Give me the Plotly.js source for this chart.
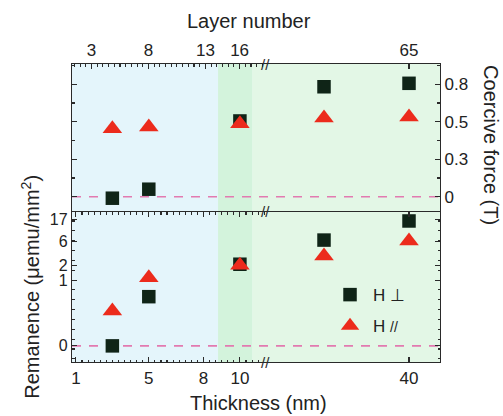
<!DOCTYPE html>
<html><head><meta charset="utf-8">
<script src="https://cdn.plot.ly/plotly-3.0.1.min.js"></script>
<style>html,body{margin:0;padding:0;background:#fff}#chart{width:503px;height:416px}</style>
</head><body><div id="chart"></div>
<script>
// ---- data ----
const thickness      = [3, 5, 10, 20, 40];              // nm
const coercivePerp   = [-0.01, 0.05, 0.505, 0.733, 0.756]; // T
const coercivePara   = [0.453, 0.465, 0.487, 0.525, 0.531];
const remanencePerp  = [0.046, 0.46, 2.1, 6.5, 15.9];   // μemu/mm² (first point sits on the "0" floor)
const remanencePara  = [0.235, 1.12, 2.0, 3.1, 6.2];
const seriesNames    = ['H ⊥', 'H <span style="font-size:14px">//</span>'];

const thicknessTicksLeft  = [1, 5, 8, 10];
const thicknessTicksRight = [40];
const layerTicksLeft  = [3, 8, 13, 16];
const layerTicksRight = [65];
const coerciveTickVals = [0, 0.25, 0.5, 0.75];
const coerciveTickText = ['0', '0.3', '0.5', '0.8'];
const remanenceZero = 0.046;
const remanenceTickVals = [remanenceZero, 1, 2, 6, 17];
const remanenceTickText = ['0', '1', '2', '6', '17'];

// shaded regions (thickness, nm)
const blueRegion = [0.785, 8.8];
const bandRegion = [8.8, 10.7];
const breakAt = 12;

// ---- layout geometry ----
const xBreak = 0.5245, yMid = 0.5067;
const xLeftRange = [0.785, 11.378], xRightRange = [6.118, 47.294];
const layerLeftRange = [1.29, 18.23], layerRightRange = [9.94, 76.85];
const yTopRange = [-0.0953, 0.8847];
const yBotRange = [-1.665, 1.404];

const FONT = 'Liberation Sans, Arial, sans-serif';
const INK = '#2a2a2a';
const SQ = '#0f2417', TRI = '#ec2b1c';

function pick(arr, left) { return arr.filter((_, i) => left ? thickness[i] < breakAt : thickness[i] >= breakAt); }

const traces = [];
function addSeries(yvals, name, sym, color, size, xa, ya, group, showleg) {
  [true, false].forEach(left => {
    traces.push({
      x: pick(thickness, left), y: pick(yvals, left),
      xaxis: left ? xa[0] : xa[1], yaxis: ya,
      type: 'scatter', mode: 'markers', name: name, legendgroup: group,
      showlegend: showleg && left, cliponaxis: false,
      marker: {symbol: sym, color: color, size: size, line: {width: 0}}
    });
  });
}
// top panel (coercive force)
addSeries(coercivePerp, seriesNames[0], 'square', SQ, 13.5, ['x3', 'x4'], 'y2', 'perp', false);
addSeries(coercivePara, seriesNames[1], 'triangle-up', TRI, 17, ['x3', 'x4'], 'y2', 'para', false);
// bottom panel (remanence)
addSeries(remanencePerp, seriesNames[0], 'square', SQ, 13.5, ['x', 'x2'], 'y', 'perp', true);
addSeries(remanencePara, seriesNames[1], 'triangle-up', TRI, 17, ['x', 'x2'], 'y', 'para', true);
// empty helper traces so the decorative axes are built
[['x5', 'y2'], ['x6', 'y2'], ['x', 'y3'], ['x2', 'y4']].forEach(p =>
  traces.push({x: [], y: [], xaxis: p[0], yaxis: p[1], type: 'scatter', mode: 'markers', showlegend: false, hoverinfo: 'skip'}));

const axBase = {
  showline: true, linecolor: INK, linewidth: 1.2, ticks: 'inside', ticklen: 5, tickwidth: 1.1,
  tickcolor: INK, showgrid: false, zeroline: false, fixedrange: true,
  tickfont: {family: FONT, size: 17, color: '#222'}
};
const minorX = {dtick: 1 / 3, tick0: 0, ticklen: 2.5, tickcolor: INK, ticks: 'inside'};

const layout = {
  width: 503, height: 416, autosize: false,
  margin: {l: 72, r: 63, t: 64, b: 54, pad: 0},
  paper_bgcolor: '#fff', plot_bgcolor: 'rgba(0,0,0,0)',
  font: {family: FONT, color: '#222'},
  showlegend: true,
  legend: {x: 0.693, xanchor: 'left', y: 0.285, yanchor: 'top', bgcolor: 'rgba(0,0,0,0)', itemwidth: 36,
           font: {family: FONT, size: 17, color: '#222'}, tracegroupgap: 6, traceorder: 'grouped'},
  xaxis:  Object.assign({}, axBase, {domain: [0, xBreak], anchor: 'y', range: xLeftRange,
           tickmode: 'array', tickvals: thicknessTicksLeft, ticktext: thicknessTicksLeft.map(String), minor: minorX}),
  xaxis2: Object.assign({}, axBase, {domain: [xBreak, 1], anchor: 'y', range: xRightRange,
           tickmode: 'array', tickvals: thicknessTicksRight, ticktext: thicknessTicksRight.map(String)}),
  xaxis3: Object.assign({}, axBase, {domain: [0, xBreak], anchor: 'y2', range: xLeftRange, ticks: 'outside',
           tickmode: 'array', tickvals: thicknessTicksLeft, showticklabels: false,
           minor: Object.assign({}, minorX, {ticks: 'outside'})}),
  xaxis4: Object.assign({}, axBase, {domain: [xBreak, 1], anchor: 'y2', range: xRightRange, ticks: 'outside',
           tickmode: 'array', tickvals: thicknessTicksRight, showticklabels: false}),
  xaxis5: Object.assign({}, axBase, {overlaying: 'x3', anchor: 'y2', side: 'top', range: layerLeftRange,
           tickmode: 'array', tickvals: layerTicksLeft, ticktext: layerTicksLeft.map(String),
           minor: {dtick: 0.5, tick0: 0, ticklen: 2.5, tickcolor: INK, ticks: 'inside'}}),
  xaxis6: Object.assign({}, axBase, {overlaying: 'x4', anchor: 'y2', side: 'top', range: layerRightRange,
           tickmode: 'array', tickvals: layerTicksRight, ticktext: layerTicksRight.map(String)}),
  yaxis:  Object.assign({}, axBase, {domain: [0, yMid], anchor: 'x', side: 'left', type: 'log', range: yBotRange,
           tickmode: 'array', tickvals: remanenceTickVals, ticktext: remanenceTickText,
           tickfont: {family: FONT, size: 16, color: '#222'},
           minor: {dtick: 0.2, tick0: 0, ticklen: 2.5, tickcolor: INK, ticks: 'inside'}}),
  yaxis4: Object.assign({}, axBase, {overlaying: 'y', anchor: 'x2', side: 'right', type: 'log', range: yBotRange,
           tickmode: 'array', tickvals: remanenceTickVals, showticklabels: false,
           minor: {dtick: 0.2, tick0: 0, ticklen: 2.5, tickcolor: INK, ticks: 'inside'}}),
  yaxis2: Object.assign({}, axBase, {domain: [yMid, 1], anchor: 'x4', side: 'right', range: yTopRange,
           tickmode: 'array', tickvals: coerciveTickVals, ticktext: coerciveTickText,
           minor: {dtick: 0.125, tick0: 0, ticklen: 3, tickcolor: INK, ticks: 'inside'}}),
  yaxis3: Object.assign({}, axBase, {overlaying: 'y2', anchor: 'x', side: 'left', range: yTopRange,
           tickmode: 'array', tickvals: coerciveTickVals, showticklabels: false,
           minor: {dtick: 0.125, tick0: 0, ticklen: 3, tickcolor: INK, ticks: 'inside'}}),
  shapes: [
    {type: 'rect', layer: 'below', xref: 'x', yref: 'paper', x0: blueRegion[0], x1: blueRegion[1], y0: 0, y1: 1,
     fillcolor: '#e4f5fb', line: {width: 0}},
    {type: 'rect', layer: 'below', xref: 'x', yref: 'paper', x0: bandRegion[0], x1: bandRegion[1], y0: 0, y1: 1,
     fillcolor: '#d3f3dc', line: {width: 0}},
    {type: 'rect', layer: 'below', xref: 'x', yref: 'paper', x0: bandRegion[1], x1: xLeftRange[1], y0: 0, y1: 1,
     fillcolor: '#e3f7e6', line: {width: 0}},
    {type: 'rect', layer: 'below', xref: 'x2', yref: 'paper', x0: xRightRange[0], x1: xRightRange[1], y0: 0, y1: 1,
     fillcolor: '#e3f7e6', line: {width: 0}},
    {type: 'line', layer: 'below', xref: 'paper', yref: 'y2', x0: 0, x1: 1, y0: 0, y1: 0,
     line: {color: '#e27ab0', width: 1.6, dash: '9px,8px'}},
    {type: 'line', layer: 'below', xref: 'paper', yref: 'y', x0: 0, x1: 1, y0: remanenceZero, y1: remanenceZero,
     line: {color: '#e27ab0', width: 1.6, dash: '9px,8px'}}
  ],
  annotations: [
    {text: 'Layer number', xref: 'paper', yref: 'paper', x: 0.48, y: 1.144, showarrow: false,
     xanchor: 'center', yanchor: 'middle', font: {family: FONT, size: 20, color: '#222'}},
    {text: 'Thickness (nm)', xref: 'paper', yref: 'paper', x: 0.508, y: -0.1376, showarrow: false,
     xanchor: 'center', yanchor: 'middle', font: {family: FONT, size: 20, color: '#222'}},
    {text: 'Remanence (μemu/mm<sup>2</sup>)', xref: 'paper', yref: 'paper', x: -0.112, y: 0.2517, showarrow: false,
     textangle: -90, xanchor: 'center', yanchor: 'middle', font: {family: FONT, size: 20, color: '#222'}},
    {text: 'Coercive force (T)', xref: 'paper', yref: 'paper', x: 1.1385, y: 0.728, showarrow: false,
     textangle: 90, xanchor: 'center', yanchor: 'middle', font: {family: FONT, size: 20, color: '#222'}},
    {text: '//', xref: 'paper', yref: 'paper', x: xBreak, y: 0, showarrow: false, xanchor: 'center', yanchor: 'middle',
     font: {family: FONT, size: 15, color: INK}},
    {text: '//', xref: 'paper', yref: 'paper', x: xBreak, y: yMid, showarrow: false, xanchor: 'center', yanchor: 'middle',
     font: {family: FONT, size: 15, color: INK}},
    {text: '//', xref: 'paper', yref: 'paper', x: xBreak, y: 1, showarrow: false, xanchor: 'center', yanchor: 'middle',
     font: {family: FONT, size: 15, color: INK}}
  ]
};

Plotly.newPlot('chart', traces, layout, {staticPlot: true, displayModeBar: false});
</script>
</body></html>
